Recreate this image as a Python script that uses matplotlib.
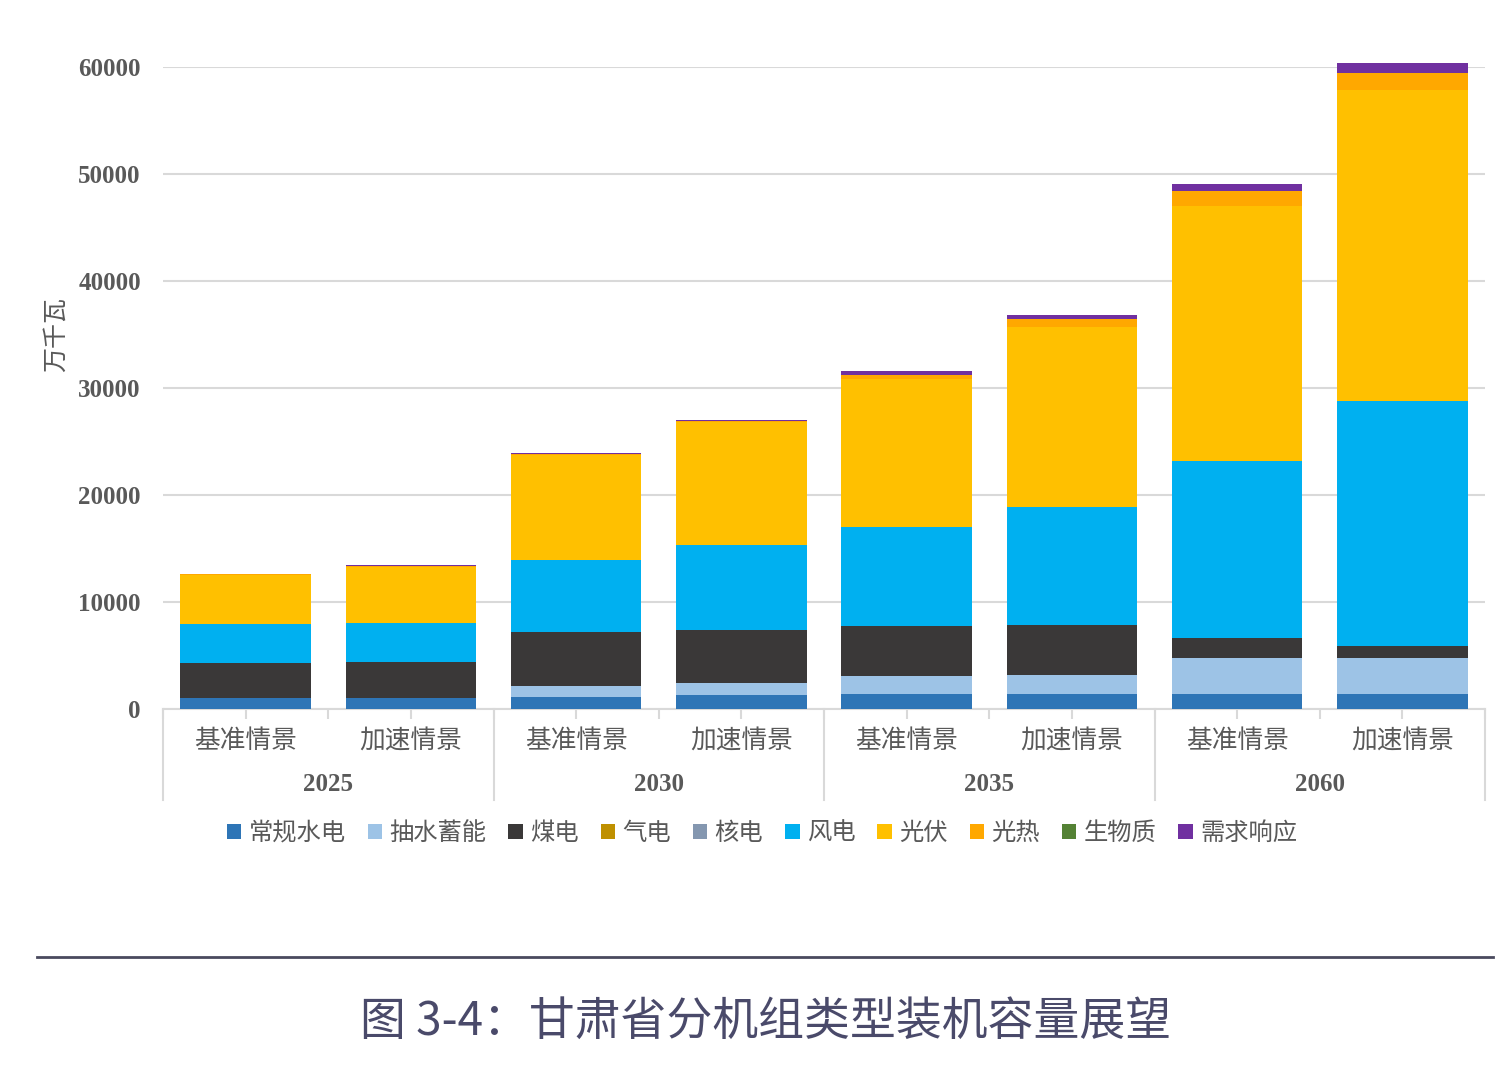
import numpy as np
import matplotlib
matplotlib.use('Agg')
import matplotlib.pyplot as plt
from matplotlib.lines import Line2D

plt.rcParams['font.family'] = ['Noto Sans CJK SC', 'DejaVu Sans']

years = ['2025', '2030', '2035', '2060']
scenarios = ['基准情景', '加速情景']
series_names = ['常规水电', '抽水蓄能', '煤电', '气电', '核电', '风电', '光伏', '光热', '生物质', '需求响应']
colors = ['#2E75B6', '#9DC3E6', '#3A3838', '#BF9000', '#8497B0',
          '#00B0F0', '#FFC000', '#FFA800', '#548235', '#7030A0']

# values in 万千瓦, bars: 2025 基准/加速, 2030, 2035, 2060
hydro = [1030, 1030, 1150, 1310, 1400, 1400, 1400, 1400]
pumped = [0, 0, 1030, 1090, 1680, 1750, 3370, 3370]
coal = [3300, 3360, 5020, 4980, 4680, 4700, 1890, 1150]
gas = [0, 0, 0, 0, 0, 0, 0, 0]
nuclear = [0, 0, 0, 0, 0, 0, 0, 0]
wind = [3640, 3650, 6730, 7950, 9250, 11060, 16520, 22890]
solar = [4580, 5260, 9810, 11490, 13800, 16820, 23830, 29040]
csp = [60, 100, 100, 120, 430, 690, 1430, 1560]
biomass = [0, 0, 0, 0, 0, 0, 0, 0]
demand = [40, 60, 90, 70, 380, 430, 660, 960]

data = [hydro, pumped, coal, gas, nuclear, wind, solar, csp, biomass, demand]

fig = plt.figure(figsize=(15.09, 10.71), dpi=100)
ax = fig.add_axes([163 / 1509, 1 - 709 / 1071, (1485 - 163) / 1509, (709 - 67) / 1071])

x = np.arange(len(years) * len(scenarios))
bottom = np.zeros(len(x))
for name, vals, c in zip(series_names, data, colors):
    vals = np.array(vals, dtype=float)
    ax.bar(x, vals, 0.79, bottom=bottom, color=c, label=name, zorder=3, clip_on=False)
    bottom += vals

ax.set_xlim(-0.5, len(x) - 0.5)
ax.set_ylim(0, 60000)
ax.set_yticks(np.arange(0, 60001, 10000))
ax.yaxis.grid(True, color='#D9D9D9', linewidth=1.5, zorder=0)
ax.tick_params(axis='y', length=0, pad=16)
for lab in ax.get_yticklabels():
    lab.set_fontfamily('Liberation Serif')
    lab.set_fontweight('bold')
    lab.set_fontsize(18)
    lab.set_color('#595959')

for s in ['top', 'right', 'left']:
    ax.spines[s].set_visible(False)
ax.spines['bottom'].set_color('#D9D9D9')
ax.spines['bottom'].set_linewidth(1.5)

ax.set_xticks(np.arange(-0.5, len(x), 0.5))
ax.set_xticklabels([])
ax.tick_params(axis='x', length=7, color='#D9D9D9', width=1.5)

tr = ax.get_xaxis_transform()
for i, xi in enumerate(x):
    ax.text(xi, -0.05, scenarios[i % 2], transform=tr, ha='center', va='center',
            fontsize=18.5, color='#595959')
for j, yr in enumerate(years):
    ax.text(2 * j + 0.5, -0.118, yr, transform=tr, ha='center', va='center',
            fontsize=18, fontweight='bold', family='Liberation Serif', color='#595959')
for b in np.arange(-0.5, len(x), 2):
    ax.add_line(Line2D([b, b], [0, -0.142], transform=tr, color='#D9D9D9',
                       linewidth=1.5, clip_on=False))

ax.set_ylabel('万千瓦', fontsize=18, color='#595959')
ax.yaxis.set_label_coords(-0.071, (709 - 335) / 642)

handles, labels = ax.get_legend_handles_labels()
leg = fig.legend(handles, labels, loc='center', bbox_to_anchor=(0.505, 1 - 833 / 1071),
                 ncol=10, frameon=False, handlelength=0.6, handleheight=0.6,
                 handletextpad=0.3, columnspacing=0.9, fontsize=17.5)
for t in leg.get_texts():
    t.set_color('#595959')

fig.add_artist(Line2D([37 / 1509, 1493 / 1509], [1 - 957 / 1071, 1 - 957 / 1071],
                      color='#4A4A5E', linewidth=2))
fig.text(0.507, 1 - 1022 / 1071, '图 3-4：甘肃省分机组类型装机容量展望',
         ha='center', va='center', fontsize=33, color='#4A4A6A')

fig.savefig('out.png', dpi=100)
